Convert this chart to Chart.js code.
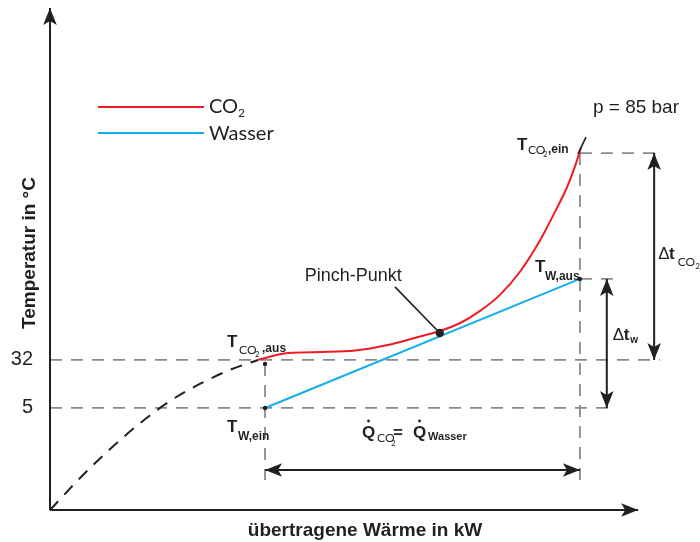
<!DOCTYPE html>
<html lang="de">
<head>
<meta charset="utf-8">
<title>Temperaturverlauf im Gaskühler</title>
<script src="https://cdn.jsdelivr.net/npm/chart.js@4.4.1/dist/chart.umd.min.js"></script>
<style>
  html, body { margin: 0; padding: 0; background: #ffffff; }
  #wrap { width: 700px; height: 542px; }
</style>
</head>
<body>
<div id="wrap"><canvas id="chart" width="700" height="542"></canvas></div>
<script>
// CO2 cooling curve: transferred heat (schematic units) and temperature in °C
const co2Heat = [32.5, 37.2, 42.5, 47.7, 52.8, 57.0, 60.9, 64.1, 67.2, 70.3, 73.4, 76.6, 78.9, 80.8, 82.0, 83.0];
const co2Temp = [32.1, 35.9, 36.5, 37.3, 40.4, 44.4, 48.3, 52.8, 59.6, 68.6, 81.5, 99.5, 115.3, 129.3, 140.6, 151.8];

// water heating line
const waterHeat = [33.6, 82.8];
const waterTemp = [5, 77.6];

// continuation of the CO2 curve below the gas cooler outlet
const precoolHeat = [0, 4.7, 9.4, 14.1, 18.75, 23.4, 28.1, 32.5];
const precoolTemp = [-52.4, -34.4, -18.1, -3.5, 8.9, 18.5, 26.4, 32];

// pinch point
const pinchHeat = [60.9];
const pinchTemp = [47.2];

// temperature tick labels
const tempTicks = [5, 32];

const seriesNames = ['CO\u2082', 'Wasser'];
const pressureText = 'p = 85 bar';

// state points of the heat exchanger
const qStart = 33.6, qEnd = 82.8;
const tCo2Out = 32, tCo2In = 148.4, tWaterIn = 5, tWaterOut = 77.6;

// axis ranges
const heatMin = 0, heatMax = 100, heatAxisEnd = 91.9;
const tempMin = -52.4, tempMax = 230;

const INK = '#231f20';
const GUIDE = '#8a8a8a';
const RED = '#ed1c24';
const BLUE = '#14aeea';
const HELV = '"Liberation Sans", Arial, Helvetica, sans-serif';
const MYR = 'Lato, "Open Sans", sans-serif';

const pts = (xs, ys) => xs.map((x, i) => ({ x, y: ys[i] }));
const seg = (x1, y1, x2, y2) => [{ x: x1, y: y1 }, { x: x2, y: y2 }];

const lineBase = { type: 'scatter', showLine: true, pointRadius: 0, fill: false, clip: false };
const guide = (data) => Object.assign({}, lineBase, {
  data, borderColor: GUIDE, borderWidth: 1.8, borderDash: [12, 9], order: 20
});
const dimension = (data, heads) => Object.assign({}, lineBase, {
  data, borderColor: INK, borderWidth: 2, arrowHeads: heads, order: 5
});

const datasets = [
  { type: 'scatter', data: pts(pinchHeat, pinchTemp), pointRadius: 4.2,
    backgroundColor: INK, borderWidth: 0, clip: false, order: 0 },
  { type: 'scatter', data: [{ x: qStart, y: 29.8 }, { x: qStart, y: tWaterIn }, { x: qEnd, y: tWaterOut }],
    pointRadius: 2.2, backgroundColor: INK, borderWidth: 0, clip: false, order: 0 },
  Object.assign({}, lineBase, { data: seg(82.5, 147.9, 83.75, 157.4), borderColor: INK, borderWidth: 1.6, order: 1 }),
  Object.assign({}, lineBase, { data: seg(53.9, 73.1, pinchHeat[0], pinchTemp[0]), borderColor: INK, borderWidth: 1.6, order: 1 }),
  Object.assign({}, lineBase, { label: seriesNames[0], data: pts(co2Heat, co2Temp), borderColor: RED,
    borderWidth: 2, cubicInterpolationMode: 'monotone', order: 2 }),
  Object.assign({}, lineBase, { label: seriesNames[1], data: pts(waterHeat, waterTemp), borderColor: BLUE,
    borderWidth: 2, order: 2 }),
  Object.assign({}, lineBase, { data: pts(precoolHeat, precoolTemp), borderColor: INK, borderWidth: 2,
    borderDash: [12, 9], cubicInterpolationMode: 'monotone', order: 3 }),
  // axes
  dimension(seg(0, tempMin, heatAxisEnd, tempMin), 'end'),
  dimension(seg(0, tempMin, 0, tempMax), 'end'),
  // dimension arrows
  dimension(seg(qStart, -29.9, qEnd, -29.9), 'both'),
  dimension(seg(94.4, tCo2In, 94.4, tCo2Out), 'both'),
  dimension(seg(87.0, tWaterOut, 87.0, tWaterIn), 'both'),
  // dashed guides
  guide(seg(0, tCo2Out, 95.3, tCo2Out)),
  guide(seg(0, tWaterIn, 87.8, tWaterIn)),
  guide(seg(qEnd, tCo2In, 95.6, tCo2In)),
  guide(seg(qEnd, tWaterOut, 88.0, tWaterOut)),
  guide(seg(qEnd, tCo2In, qEnd, -35.5)),
  guide(seg(qStart, 29.8, qStart, -35.5))
];

function arrowHead(ctx, tip, from, len, half, notch) {
  const ang = Math.atan2(tip.y - from.y, tip.x - from.x);
  ctx.save();
  ctx.translate(tip.x, tip.y);
  ctx.rotate(ang);
  ctx.beginPath();
  ctx.moveTo(0, 0);
  ctx.lineTo(-len, -half);
  ctx.lineTo(-len + notch, 0);
  ctx.lineTo(-len, half);
  ctx.closePath();
  ctx.fillStyle = INK;
  ctx.fill();
  ctx.restore();
}

function text(ctx, str, x, y, font, align) {
  ctx.font = font;
  ctx.textAlign = align || 'left';
  ctx.fillText(str, x, y);
}

// draws pieces of text one after another; each piece: [string, font, baseline shift, extra gap]
function runs(ctx, x, y, parts) {
  let cx = x;
  ctx.textAlign = 'left';
  parts.forEach(([s, font, dy, gap]) => {
    ctx.font = font;
    ctx.fillText(s, cx, y + (dy || 0));
    cx += ctx.measureText(s).width + (gap || 0);
  });
}

function dot(ctx, x, y, r) {
  ctx.beginPath();
  ctx.arc(x, y, r, 0, Math.PI * 2);
  ctx.fill();
}

const annotations = {
  id: 'annotations',
  afterDatasetsDraw(chart) {
    const ctx = chart.ctx;
    chart.data.datasets.forEach((ds, i) => {
      if (!ds.arrowHeads) return;
      const el = chart.getDatasetMeta(i).data;
      const a = el[0], b = el[el.length - 1];
      arrowHead(ctx, b, a, 17, 6.8, 4);
      if (ds.arrowHeads === 'both') arrowHead(ctx, a, b, 17, 6.8, 4);
    });
  },
  afterDraw(chart) {
    const ctx = chart.ctx;
    const sx = chart.scales.x, sy = chart.scales.y;
    const P = (x, y) => ({ X: sx.getPixelForValue(x), Y: sy.getPixelForValue(y) });
    const ca = chart.chartArea;
    ctx.save();
    ctx.fillStyle = INK;
    ctx.textBaseline = 'alphabetic';

    // legend
    const legendSets = chart.data.datasets.filter(d => d.label);
    legendSets.forEach((d, k) => {
      const y = 107 + k * 26;
      ctx.strokeStyle = d.borderColor;
      ctx.lineWidth = 1.8;
      ctx.beginPath(); ctx.moveTo(98, y); ctx.lineTo(204, y); ctx.stroke();
      ctx.fillStyle = INK;
      if (d.label === seriesNames[0]) {
        runs(ctx, 209, y + 6, [['CO', '20px ' + MYR], ['2', '12px ' + MYR, 4]]);
      } else {
        text(ctx, d.label, 209, y + 7, '20px ' + MYR);
      }
    });

    // axis titles
    ctx.save();
    ctx.translate(ca.left - 15, 253);
    ctx.rotate(-Math.PI / 2);
    text(ctx, 'Temperatur in °C', 0, 0, 'bold 19px ' + HELV, 'center');
    ctx.restore();
    text(ctx, 'übertragene Wärme in kW', 365, 536, 'bold 19px ' + HELV, 'center');

    // T_CO2,aus
    const a = P(qStart, tCo2Out);
    text(ctx, 'T', a.X - 38, a.Y - 13, 'bold 17px ' + HELV);
    text(ctx, 'CO', a.X - 26, a.Y - 6, '12px ' + MYR);
    text(ctx, '2', a.X - 10, a.Y - 3, '8px ' + MYR);
    text(ctx, ',aus', a.X - 3, a.Y - 8, 'bold 12px ' + HELV);

    // T_W,ein
    const b = P(qStart, tWaterIn);
    text(ctx, 'T', b.X - 38, b.Y + 24, 'bold 17px ' + HELV);
    text(ctx, 'W,ein', b.X - 27, b.Y + 32, 'bold 12px ' + HELV);

    // T_CO2,ein
    const c = P(qEnd, tCo2In);
    text(ctx, 'T', c.X - 63, c.Y - 3, 'bold 17px ' + HELV);
    text(ctx, 'CO', c.X - 52, c.Y + 1, '12px ' + MYR);
    text(ctx, '2', c.X - 37, c.Y + 4, '8px ' + MYR);
    text(ctx, ',ein', c.X - 32, c.Y, 'bold 12px ' + HELV);

    // T_W,aus
    const d = P(qEnd, tWaterOut);
    text(ctx, 'T', d.X - 45, d.Y - 7, 'bold 17px ' + HELV);
    text(ctx, 'W,aus', d.X - 35, d.Y + 1, 'bold 12px ' + HELV);

    // pressure
    text(ctx, pressureText, c.X + 13, c.Y - 40, '19px ' + HELV);

    // heat flow balance
    const e = P(qStart, -29.9);
    text(ctx, 'Q', e.X + 97, e.Y - 32, 'bold 17px ' + HELV);
    dot(ctx, e.X + 103.5, e.Y - 49, 1.4);
    text(ctx, 'CO', e.X + 112, e.Y - 28, '12px ' + MYR);
    text(ctx, '2', e.X + 126, e.Y - 24, '8px ' + MYR);
    text(ctx, '=', e.X + 128, e.Y - 32, 'bold 17px ' + HELV);
    text(ctx, 'Q', e.X + 148, e.Y - 32, 'bold 17px ' + HELV);
    dot(ctx, e.X + 154.5, e.Y - 49, 1.4);
    text(ctx, 'Wasser', e.X + 163, e.Y - 30, 'bold 11px ' + HELV);

    // temperature differences
    const f = P(94.4, (tCo2In + tCo2Out) / 2);
    runs(ctx, f.X + 4, f.Y + 2, [
      ['\u0394', '17px ' + HELV, 0, -0.5],
      ['t', 'bold 17px ' + HELV, 0, 3],
      ['CO', '12px ' + MYR, 7],
      ['2', '8px ' + MYR, 10]
    ]);

    const g = P(87.0, (tWaterOut + tWaterIn) / 2);
    runs(ctx, g.X + 6, g.Y - 3, [
      ['\u0394', '17px ' + HELV, 0, -0.5],
      ['t', 'bold 17px ' + HELV, 0, 1],
      ['w', 'bold 10px ' + HELV, 3]
    ]);

    // pinch point label
    const h = P(pinchHeat[0], pinchTemp[0]);
    text(ctx, 'Pinch-Punkt', h.X - 135, h.Y - 52, '18px ' + HELV);

    ctx.restore();
  }
};

new Chart(document.getElementById('chart'), {
  type: 'scatter',
  data: { datasets },
  options: {
    responsive: false,
    animation: false,
    events: [],
    layout: { padding: { top: 8, right: 10, bottom: 32, left: 0 } },
    plugins: { legend: { display: false }, tooltip: { enabled: false } },
    scales: {
      x: { type: 'linear', display: false, min: heatMin, max: heatMax },
      y: {
        type: 'linear', min: tempMin, max: tempMax,
        grid: { display: false, drawTicks: false },
        border: { display: false },
        afterBuildTicks: (s) => { s.ticks = tempTicks.map(v => ({ value: v })); },
        afterFit: (s) => { s.width = 50; s.paddingTop = 0; s.paddingBottom = 0; },
        ticks: { padding: 17, color: INK, font: { family: HELV, size: 20 }, callback: (v) => String(v) }
      }
    }
  },
  plugins: [annotations]
});
</script>
</body>
</html>
